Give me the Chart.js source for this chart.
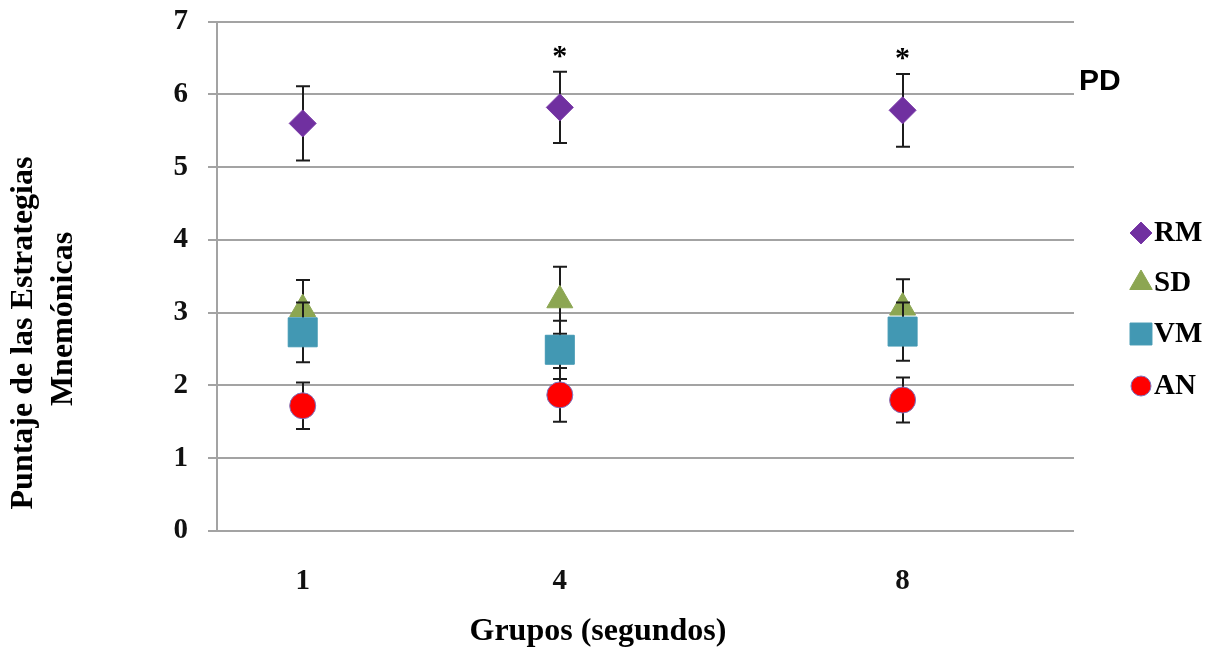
<!DOCTYPE html>
<html><head><meta charset="utf-8">
<script src="https://cdn.jsdelivr.net/npm/chart.js@4/dist/chart.umd.min.js"></script>
<style>html,body{margin:0;padding:0;background:#fff;} #wrap{width:1219px;height:647px;position:relative;}</style>
</head><body><div id="wrap"><canvas id="c"></canvas></div>
<script>
const grupos = [1, 4, 8];
const xTickValues = [1, 4, 8];
const seriesNames = ['RM', 'SD', 'VM', 'AN'];
const rmValues = [5.60, 5.82, 5.78];
const rmErrors = [0.51, 0.49, 0.50];
const sdValues = [3.05, 3.17, 3.07];
const sdErrors = [0.40, 0.46, 0.39];
const vmValues = [2.73, 2.49, 2.74];
const vmErrors = [0.41, 0.40, 0.40];
const anValues = [1.72, 1.87, 1.80];
const anErrors = [0.32, 0.37, 0.31];
const significantGroups = [4, 8];
const xTitle = 'Grupos (segundos)';
const yTitleLines = ['Puntaje de las Estrategias', 'Mnemónicas'];
const panelLabel = 'PD';

const SERIF = '"Liberation Serif", "Times New Roman", serif';
const toPoints = vals => grupos.map((g, i) => ({x: g, y: vals[i]}));

function mkSet(label, vals, errs, style, radius, color, border, order, legendRadius) {
  return {
    label, data: toPoints(vals), errors: errs, showLine: false,
    pointStyle: style, pointRadius: radius, pointHoverRadius: radius,
    backgroundColor: color, borderColor: border, borderWidth: 1,
    pointBackgroundColor: color, pointBorderColor: border, pointBorderWidth: 1,
    order, legendRadius
  };
}

const datasets = [
  mkSet(seriesNames[0], rmValues, rmErrors, 'rectRot', 13.5, '#7030A0', '#7a3aa8', 4, 11),
  mkSet(seriesNames[1], sdValues, sdErrors, 'triangle', 15, '#8CA652', '#8CA652', 3, 13),
  mkSet(seriesNames[2], vmValues, vmErrors, 'rect', 20.5, '#4298B3', '#4298B3', 2, 15.5),
  mkSet(seriesNames[3], anValues, anErrors, 'circle', 13, '#FF0000', '#7b74c0', 1, 10)
];

const errorBars = {
  id: 'errorBars',
  beforeDatasetDraw(chart, args) {
    const ds = chart.data.datasets[args.index];
    if (!ds.errors) return;
    const ctx = chart.ctx, xs = chart.scales.x, ys = chart.scales.y;
    ctx.save();
    ctx.strokeStyle = '#1c1c1c';
    ctx.lineWidth = 2;
    ds.data.forEach((p, i) => {
      const x = Math.round(xs.getPixelForValue(p.x));
      const yt = ys.getPixelForValue(p.y + ds.errors[i]);
      const yb = ys.getPixelForValue(p.y - ds.errors[i]);
      ctx.beginPath();
      ctx.moveTo(x, yt); ctx.lineTo(x, yb);
      ctx.moveTo(x - 7, yt); ctx.lineTo(x + 7, yt);
      ctx.moveTo(x - 7, yb); ctx.lineTo(x + 7, yb);
      ctx.stroke();
    });
    ctx.restore();
  }
};

function drawMarker(ctx, style, r, x, y) {
  if (Chart.helpers && Chart.helpers.drawPoint) {
    Chart.helpers.drawPoint(ctx, {pointStyle: style, radius: r, rotation: 0, borderWidth: 1}, x, y);
    return;
  }
  ctx.beginPath();
  ctx.arc(x, y, r, 0, Math.PI * 2);
  ctx.fill();
}

const annotations = {
  id: 'annotations',
  afterDraw(chart) {
    const ctx = chart.ctx, xs = chart.scales.x, ys = chart.scales.y;
    ctx.save();
    ctx.fillStyle = '#000';
    // asterisks above RM error bars
    ctx.font = 'bold 30px ' + SERIF;
    ctx.textAlign = 'center';
    ctx.textBaseline = 'alphabetic';
    significantGroups.forEach(g => {
      const i = grupos.indexOf(g);
      const x = xs.getPixelForValue(g);
      const y = ys.getPixelForValue(rmValues[i] + rmErrors[i]) - 7;
      ctx.fillText('*', x, y);
    });
    // PD label
    ctx.font = 'bold 30px "Liberation Sans", Arial, sans-serif';
    ctx.textAlign = 'left';
    ctx.fillText(panelLabel, 1079, 90);
    // x title
    ctx.font = 'bold 32px ' + SERIF;
    ctx.textAlign = 'center';
    ctx.fillText(xTitle, 598, 640);
    // y title
    ctx.textBaseline = 'middle';
    const yCenters = [333, 319];
    const xCenters = [24, 64];
    yTitleLines.forEach((t, k) => {
      ctx.save();
      ctx.translate(xCenters[k], yCenters[k]);
      ctx.rotate(-Math.PI / 2);
      ctx.fillText(t, 0, 0);
      ctx.restore();
    });
    // legend
    const rowsY = [233, 283, 334, 386];
    chart.data.datasets.forEach((ds, k) => {
      ctx.fillStyle = ds.backgroundColor;
      ctx.strokeStyle = ds.borderColor;
      ctx.lineWidth = 1;
      drawMarker(ctx, ds.pointStyle, ds.legendRadius, 1141, rowsY[k]);
      ctx.fillStyle = '#000';
      ctx.font = 'bold 29px ' + SERIF;
      ctx.textAlign = 'left';
      ctx.textBaseline = 'middle';
      ctx.fillText(ds.label, 1154, rowsY[k] + 1);
    });
    ctx.restore();
  }
};

new Chart(document.getElementById('c'), {
  type: 'scatter',
  data: {datasets},
  plugins: [errorBars, annotations],
  options: {
    responsive: true,
    maintainAspectRatio: false,
    animation: false,
    events: [],
    layout: {padding: {left: 0, right: 145, top: 21, bottom: 0}},
    plugins: {legend: {display: false}, tooltip: {enabled: false}},
    scales: {
      x: {
        type: 'linear', min: 0, max: 10,
        afterBuildTicks: s => { s.ticks = xTickValues.map(v => ({value: v})); },
        afterFit: s => { s.height = 116; s.paddingLeft = 0; s.paddingRight = 0; },
        grid: {display: false, drawTicks: false},
        border: {display: false},
        ticks: {padding: 33, autoSkip: false, maxRotation: 0, color: '#111',
                font: {family: SERIF, size: 29, weight: 'bold'}}
      },
      y: {
        min: 0, max: 7,
        afterFit: s => { s.width = 217; s.paddingTop = 0; s.paddingBottom = 0; },
        grid: {color: '#a3a3a3', lineWidth: 2, tickLength: 9, drawTicks: true},
        border: {display: true, color: '#a3a3a3', width: 2},
        ticks: {stepSize: 1, padding: 20, color: '#111',
                font: {family: SERIF, size: 29, weight: 'bold'}}
      }
    }
  }
});
</script>
</body></html>
